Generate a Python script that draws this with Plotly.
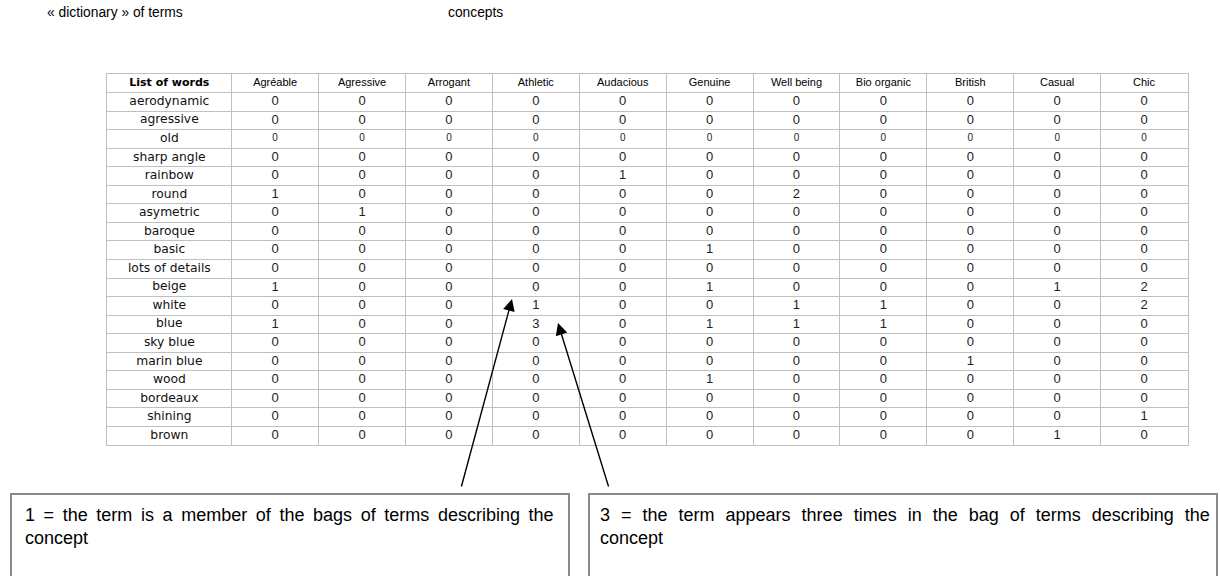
import plotly.graph_objects as go

W, H = 1220, 576

header_label = "List of words"
concepts = ["Agréable", "Agressive", "Arrogant", "Athletic", "Audacious", "Genuine",
            "Well being", "Bio organic", "British", "Casual", "Chic"]
terms = ["aerodynamic", "agressive", "old", "sharp angle", "rainbow", "round", "asymetric",
         "baroque", "basic", "lots of details", "beige", "white", "blue", "sky blue",
         "marin blue", "wood", "bordeaux", "shining", "brown"]

# counts per concept (one list per column, in the order of terms)
agreable    = [0, 0, 0, 0, 0, 1, 0, 0, 0, 0, 1, 0, 1, 0, 0, 0, 0, 0, 0]
agressive   = [0, 0, 0, 0, 0, 0, 1, 0, 0, 0, 0, 0, 0, 0, 0, 0, 0, 0, 0]
arrogant    = [0, 0, 0, 0, 0, 0, 0, 0, 0, 0, 0, 0, 0, 0, 0, 0, 0, 0, 0]
athletic    = [0, 0, 0, 0, 0, 0, 0, 0, 0, 0, 0, 1, 3, 0, 0, 0, 0, 0, 0]
audacious   = [0, 0, 0, 0, 1, 0, 0, 0, 0, 0, 0, 0, 0, 0, 0, 0, 0, 0, 0]
genuine     = [0, 0, 0, 0, 0, 0, 0, 0, 1, 0, 1, 0, 1, 0, 0, 1, 0, 0, 0]
well_being  = [0, 0, 0, 0, 0, 2, 0, 0, 0, 0, 0, 1, 1, 0, 0, 0, 0, 0, 0]
bio_organic = [0, 0, 0, 0, 0, 0, 0, 0, 0, 0, 0, 1, 1, 0, 0, 0, 0, 0, 0]
british     = [0, 0, 0, 0, 0, 0, 0, 0, 0, 0, 0, 0, 0, 0, 1, 0, 0, 0, 0]
casual      = [0, 0, 0, 0, 0, 0, 0, 0, 0, 0, 1, 0, 0, 0, 0, 0, 0, 0, 1]
chic        = [0, 0, 0, 0, 0, 0, 0, 0, 0, 0, 2, 2, 0, 0, 0, 0, 0, 1, 0]

columns = [agreable, agressive, arrogant, athletic, audacious, genuine,
           well_being, bio_organic, british, casual, chic]

title_left = "« dictionary » of terms"
title_right = "concepts"
note_left_l1 = "1 = the term is a member of the bags of terms describing the"
note_right_l1 = "3 = the term appears three times in the bag of terms describing the"
note_l2 = "concept"

# ---- layout geometry (window pixels) ----
TX0, TX1 = 107, 1187.5
TY0, TY1 = 74, 445
FIRST_W = 124.7


def px(x):
    return x / W


def py(y):
    return 1 - y / H


def justify(line, extra):
    # widen the word gaps a little, like the justified text of the reference
    return line.replace(" ", " " + extra)


n_cols = len(concepts)
data_w = (TX1 - TX0 - FIRST_W) / n_cols
widths = [FIRST_W] + [data_w] * n_cols
bounds = [0.0]
for w in widths:
    bounds.append(bounds[-1] + w)
centers = [(bounds[i] + bounds[i + 1]) / 2 for i in range(len(widths))]
n_rows = len(terms) + 1
row_y = [i + 1.5 for i in range(len(terms))]

fig = go.Figure()

# header row
fig.add_trace(go.Scatter(
    x=[centers[0]], y=[0.5], mode="text", text=["<b>" + header_label + "</b>"],
    textfont=dict(family="DejaVu Sans", size=11, color="black"),
    hoverinfo="skip", showlegend=False))
fig.add_trace(go.Scatter(
    x=centers[1:], y=[0.5] * n_cols, mode="text", text=concepts,
    textfont=dict(family="Liberation Sans", size=11, color="black"),
    hoverinfo="skip", showlegend=False))

# term labels
fig.add_trace(go.Scatter(
    x=[centers[0]] * len(terms), y=row_y, mode="text", text=terms,
    textfont=dict(family="DejaVu Sans", size=12.3, color="#111111"),
    hoverinfo="skip", showlegend=False))

# counts (the "old" row uses smaller digits, as in the reference)
digit_sizes = [10 if t == "old" else 13 for t in terms]
for j, (name, col) in enumerate(zip(concepts, columns)):
    fig.add_trace(go.Scatter(
        x=[centers[j + 1]] * len(col), y=row_y, mode="text",
        text=[str(v) for v in col], name=name,
        textfont=dict(family="Liberation Sans", size=digit_sizes, color="#222222"),
        hoverinfo="skip", showlegend=False))

grid = "#c0c0c0"
fig.update_xaxes(
    domain=[px(TX0), px(TX1)], range=[0, bounds[-1]],
    tickmode="array", tickvals=bounds, showticklabels=False, ticks="",
    showgrid=True, gridcolor=grid, gridwidth=1, zeroline=False,
    showline=True, linecolor=grid, linewidth=1, mirror=True, fixedrange=True)
fig.update_yaxes(
    domain=[py(TY1), py(TY0)], range=[n_rows, 0],
    tickmode="array", tickvals=list(range(n_rows + 1)), showticklabels=False, ticks="",
    showgrid=True, gridcolor=grid, gridwidth=1, zeroline=False,
    showline=True, linecolor=grid, linewidth=1, mirror=True, fixedrange=True)

note_font = dict(family="Liberation Sans", size=18, color="black")
annotations = [
    dict(text=title_left, x=px(45), y=py(12), xref="paper", yref="paper",
         xanchor="left", yanchor="middle", showarrow=False,
         font=dict(family="Liberation Sans", size=13.8, color="black")),
    dict(text=title_right, x=px(446), y=py(12), xref="paper", yref="paper",
         xanchor="left", yanchor="middle", showarrow=False,
         font=dict(family="Liberation Sans", size=13.8, color="black")),
    dict(text=justify(note_left_l1, "\u2009") + "<br>" + note_l2,
         x=px(23), y=py(503), xref="paper", yref="paper",
         xanchor="left", yanchor="top", align="left", showarrow=False, font=note_font),
    dict(text=justify(note_right_l1, "\u2004") + "<br>" + note_l2,
         x=px(598), y=py(503), xref="paper", yref="paper",
         xanchor="left", yanchor="top", align="left", showarrow=False, font=note_font),
    # arrows
    dict(x=px(512), y=py(299), xref="paper", yref="paper", text="",
         showarrow=True, ax=461 - 512, ay=488 - 299, arrowhead=2, arrowsize=1.7,
         arrowwidth=1.4, arrowcolor="black"),
    dict(x=px(558), y=py(323), xref="paper", yref="paper", text="",
         showarrow=True, ax=609 - 558, ay=488 - 323, arrowhead=2, arrowsize=1.7,
         arrowwidth=1.4, arrowcolor="black"),
]

shapes = [
    dict(type="rect", xref="paper", yref="paper", x0=px(11), x1=px(569),
         y0=py(600), y1=py(494), line=dict(color="#8a8a8a", width=2)),
    dict(type="rect", xref="paper", yref="paper", x0=px(589), x1=px(1217),
         y0=py(600), y1=py(494), line=dict(color="#8a8a8a", width=2)),
]

fig.update_layout(
    width=W, height=H,
    margin=dict(l=0, r=0, t=0, b=0),
    paper_bgcolor="white", plot_bgcolor="white",
    annotations=annotations, shapes=shapes,
    showlegend=False,
)

fig.write_html("out.html", config={"displayModeBar": False},
               post_script="document.body.style.margin='0px';"
                           "document.body.style.overflow='hidden';")
